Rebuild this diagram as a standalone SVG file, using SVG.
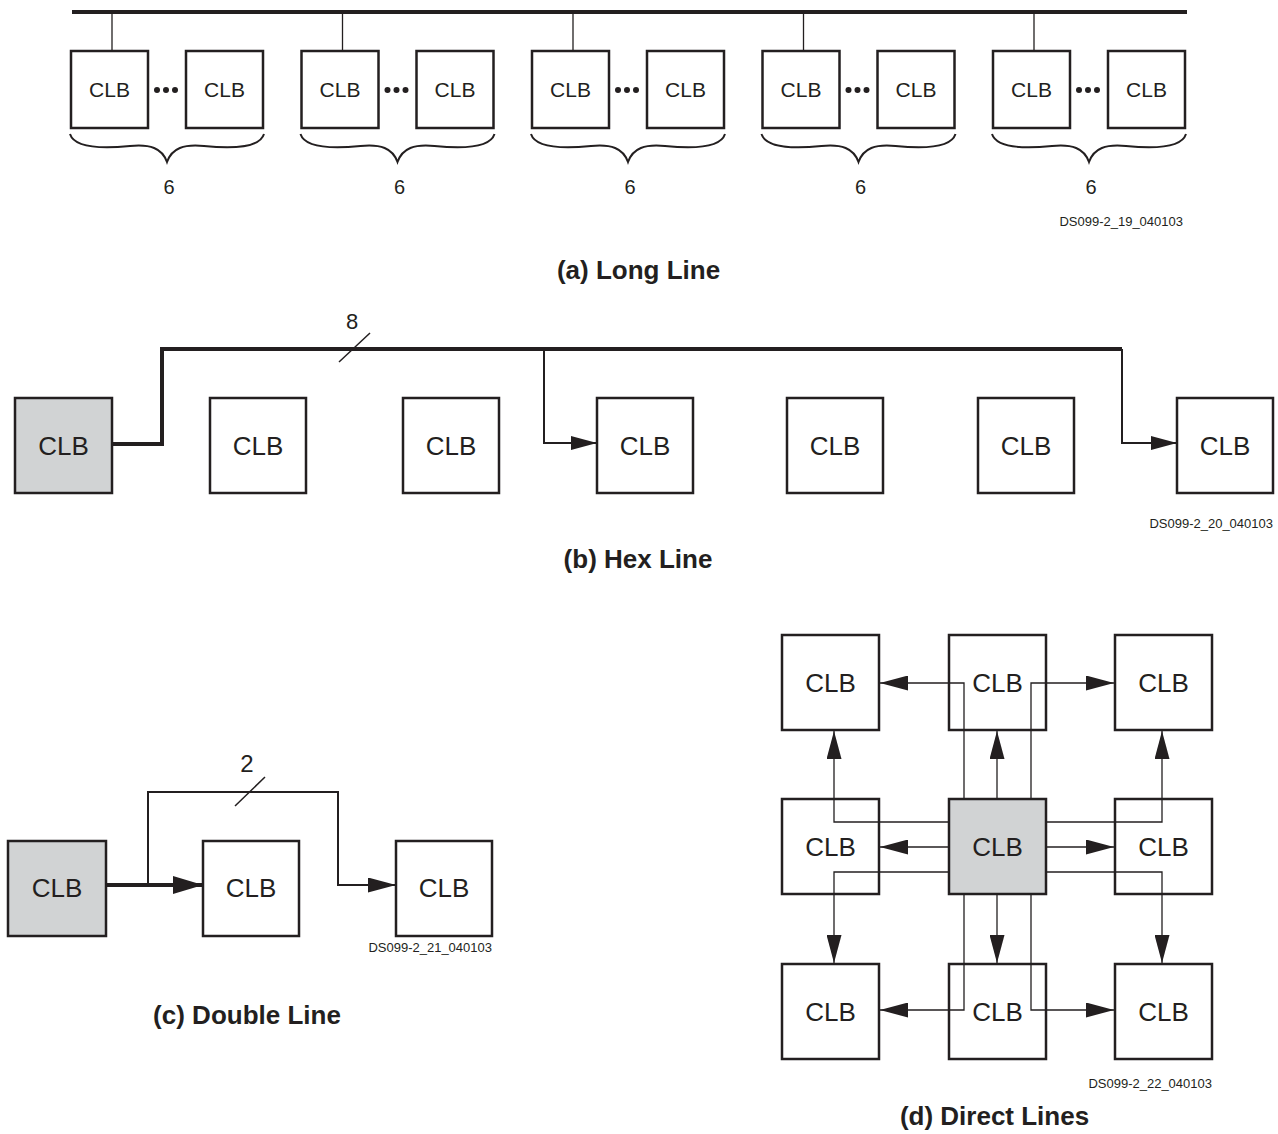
<svg xmlns="http://www.w3.org/2000/svg" width="1278" height="1134" viewBox="0 0 1278 1134">
<style>
text{font-family:"Liberation Sans",Arial,sans-serif;fill:#231f20}
.box{fill:#fff;stroke:#231f20;stroke-width:2.5}
.g{fill:#d1d3d4}
.clb{font-size:26px;text-anchor:middle}
.clba{font-size:21px;text-anchor:middle}
.num{font-size:20px;text-anchor:middle}
.ds{font-size:13px;text-anchor:end}
.title{font-size:26px;font-weight:bold;text-anchor:middle}
.thick{fill:none;stroke:#231f20;stroke-width:4}
.med{fill:none;stroke:#231f20;stroke-width:2}
.thin{fill:none;stroke:#231f20;stroke-width:1.3}
.brace{fill:none;stroke:#231f20;stroke-width:2}
</style>
<defs>
<marker id="ah" viewBox="0 0 28 15" refX="28" refY="7.5" markerWidth="28" markerHeight="15" markerUnits="userSpaceOnUse" orient="auto">
<path d="M0,0 L28,7.5 L0,15 Z" fill="#231f20"/>
</marker>
<marker id="ahb" viewBox="0 0 30 18" refX="30" refY="9" markerWidth="30" markerHeight="18" markerUnits="userSpaceOnUse" orient="auto">
<path d="M0,0 L30,9 L0,18 Z" fill="#231f20"/>
</marker>
<marker id="ahs" viewBox="0 0 26 14" refX="26" refY="7" markerWidth="26" markerHeight="14" markerUnits="userSpaceOnUse" orient="auto">
<path d="M0,0 L26,7 L0,14 Z" fill="#231f20"/>
</marker>
<g id="grp">
<rect class="box" x="71" y="51" width="77" height="77"/>
<text class="clba" x="109.5" y="97">CLB</text>
<rect class="box" x="186" y="51" width="77" height="77"/>
<text class="clba" x="224.5" y="97">CLB</text>
<circle cx="157" cy="90" r="3" fill="#231f20"/>
<circle cx="166" cy="90" r="3" fill="#231f20"/>
<circle cx="175" cy="90" r="3" fill="#231f20"/>
<line x1="112" y1="12" x2="112" y2="51" stroke="#231f20" stroke-width="1.3"/>
<path class="brace" d="M70 134 C75 150,110 148,130 146 C150 144,162 148,167 162 C172 148,184 144,204 146 C224 148,259 150,264 134"/>
<text class="num" x="169" y="194">6</text>
</g>
</defs>

<!-- (a) Long Line -->
<g id="a-connectors">
<line x1="72" y1="12" x2="1187" y2="12" stroke="#231f20" stroke-width="4"/>
</g>
<g id="a-group1"><use href="#grp"/></g>
<g id="a-group2"><use href="#grp" x="230.5"/></g>
<g id="a-group3"><use href="#grp" x="461"/></g>
<g id="a-group4"><use href="#grp" x="691.5"/></g>
<g id="a-group5"><use href="#grp" x="922"/></g>
<text class="ds" x="1183" y="226">DS099-2_19_040103</text>
<text class="title" x="638.5" y="279">(a) Long Line</text>

<!-- (b) Hex Line -->
<g id="b-connectors">
<path class="thick" d="M112 444 L162 444 L162 349 L1122 349"/>
<path class="med" d="M544 349 L544 443 L597 443" marker-end="url(#ahs)"/>
<path class="med" d="M1122 349 L1122 443 L1177 443" marker-end="url(#ahs)"/>
<line x1="339" y1="362" x2="370" y2="333" stroke="#231f20" stroke-width="1.5"/>
<text x="352" y="329" font-size="22" text-anchor="middle">8</text>
</g>
<g id="b-clb0"><rect class="box g" x="15" y="398" width="97" height="95"/><text class="clb" x="63.5" y="455">CLB</text></g>
<g id="b-clb1"><rect class="box" x="210" y="398" width="96" height="95"/><text class="clb" x="258" y="455">CLB</text></g>
<g id="b-clb2"><rect class="box" x="403" y="398" width="96" height="95"/><text class="clb" x="451" y="455">CLB</text></g>
<g id="b-clb3"><rect class="box" x="597" y="398" width="96" height="95"/><text class="clb" x="645" y="455">CLB</text></g>
<g id="b-clb4"><rect class="box" x="787" y="398" width="96" height="95"/><text class="clb" x="835" y="455">CLB</text></g>
<g id="b-clb5"><rect class="box" x="978" y="398" width="96" height="95"/><text class="clb" x="1026" y="455">CLB</text></g>
<g id="b-clb6"><rect class="box" x="1177" y="398" width="96" height="95"/><text class="clb" x="1225" y="455">CLB</text></g>
<text class="ds" x="1273" y="528">DS099-2_20_040103</text>
<text class="title" x="638" y="568">(b) Hex Line</text>

<!-- (c) Double Line -->
<g id="c-connectors">
<path class="thick" d="M106 885 L203 885" marker-end="url(#ahb)"/>
<path class="med" d="M148 885 L148 792 L338 792 L338 885 L396 885" marker-end="url(#ah)"/>
<line x1="235" y1="806" x2="265" y2="777" stroke="#231f20" stroke-width="1.5"/>
<text x="247" y="772" font-size="24" text-anchor="middle">2</text>
</g>
<g id="c-clb0"><rect class="box g" x="8" y="841" width="98" height="95"/><text class="clb" x="57" y="897">CLB</text></g>
<g id="c-clb1"><rect class="box" x="203" y="841" width="96" height="95"/><text class="clb" x="251" y="897">CLB</text></g>
<g id="c-clb2"><rect class="box" x="396" y="841" width="96" height="95"/><text class="clb" x="444" y="897">CLB</text></g>
<text class="ds" x="492" y="952">DS099-2_21_040103</text>
<text class="title" x="247" y="1024">(c) Double Line</text>

<!-- (d) Direct Lines -->
<g id="d-tl"><rect class="box" x="782" y="635" width="97" height="95"/><text class="clb" x="830.5" y="692">CLB</text></g>
<g id="d-tm"><rect class="box" x="949" y="635" width="97" height="95"/><text class="clb" x="997.5" y="692">CLB</text></g>
<g id="d-tr"><rect class="box" x="1115" y="635" width="97" height="95"/><text class="clb" x="1163.5" y="692">CLB</text></g>
<g id="d-ml"><rect class="box" x="782" y="799" width="97" height="95"/><text class="clb" x="830.5" y="856">CLB</text></g>
<g id="d-mr"><rect class="box" x="1115" y="799" width="97" height="95"/><text class="clb" x="1163.5" y="856">CLB</text></g>
<g id="d-bl"><rect class="box" x="782" y="964" width="97" height="95"/><text class="clb" x="830.5" y="1021">CLB</text></g>
<g id="d-bm"><rect class="box" x="949" y="964" width="97" height="95"/><text class="clb" x="997.5" y="1021">CLB</text></g>
<g id="d-br"><rect class="box" x="1115" y="964" width="97" height="95"/><text class="clb" x="1163.5" y="1021">CLB</text></g>
<g id="d-center"><rect class="box g" x="949" y="799" width="97" height="95"/><text class="clb" x="997.5" y="856">CLB</text></g>
<g id="d-connectors">
<path class="thin" d="M997 799 L997 731" marker-end="url(#ah)"/>
<path class="thin" d="M964 799 L964 683 L880 683" marker-end="url(#ah)"/>
<path class="thin" d="M1031 799 L1031 683 L1114 683" marker-end="url(#ah)"/>
<path class="thin" d="M949 822 L834 822 L834 731" marker-end="url(#ah)"/>
<path class="thin" d="M949 847 L880 847" marker-end="url(#ah)"/>
<path class="thin" d="M949 872 L834 872 L834 963" marker-end="url(#ah)"/>
<path class="thin" d="M1046 822 L1162 822 L1162 731" marker-end="url(#ah)"/>
<path class="thin" d="M1046 847 L1114 847" marker-end="url(#ah)"/>
<path class="thin" d="M1046 872 L1162 872 L1162 963" marker-end="url(#ah)"/>
<path class="thin" d="M997 894 L997 963" marker-end="url(#ah)"/>
<path class="thin" d="M964 894 L964 1010 L880 1010" marker-end="url(#ah)"/>
<path class="thin" d="M1031 894 L1031 1010 L1114 1010" marker-end="url(#ah)"/>
</g>
<text class="ds" x="1212" y="1088">DS099-2_22_040103</text>
<text class="title" x="994.5" y="1125">(d) Direct Lines</text>
</svg>
